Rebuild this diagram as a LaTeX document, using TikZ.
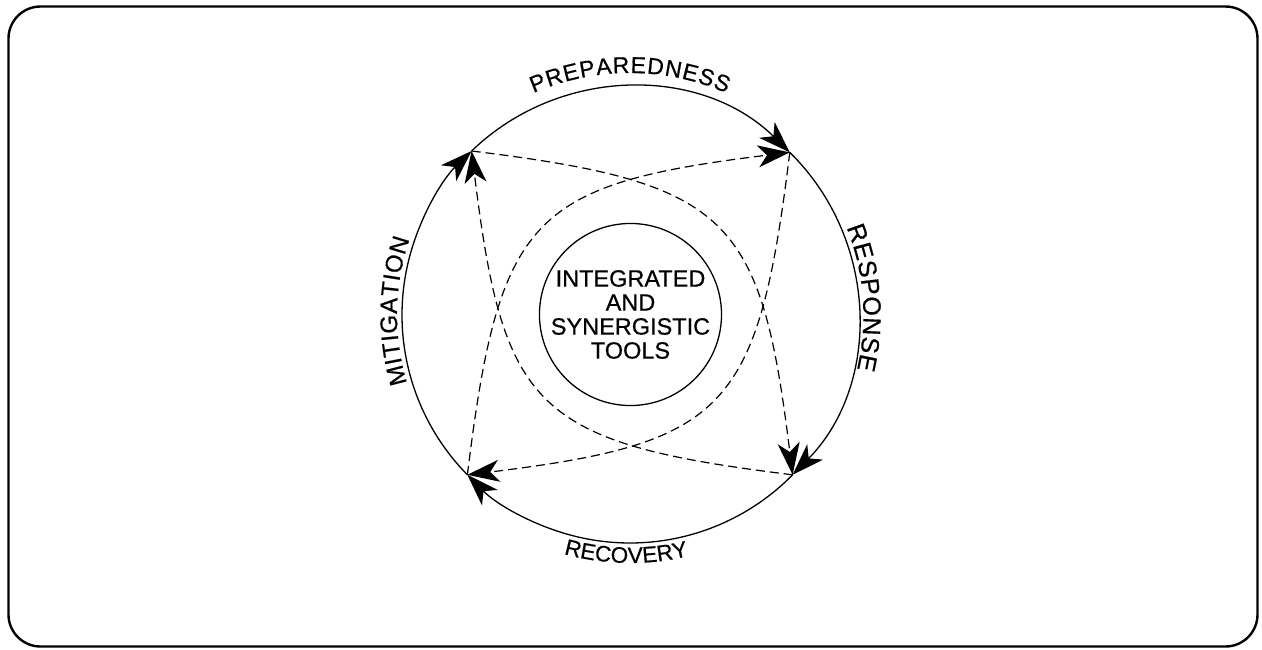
\documentclass[tikz,border=0pt]{standalone}
\usepackage{fontspec}
\setmainfont[FakeBold=0.6]{Liberation Sans}
\usetikzlibrary{arrows.meta,decorations.text}

\begin{document}
\begin{tikzpicture}[x=1pt,y=1pt,
  ring/.style={line width=1.3pt},
  flow/.style={line width=1.2pt, dash pattern=on 9pt off 5pt},
  tip/.style={-{Stealth[length=32pt,width=22pt,inset=9pt]}},
  phase/.style={decorate, decoration={text along path, text align={fit to path}, text={#1}}}
]
% page and frame
\useasboundingbox (-630,-334) rectangle (632,315);
\draw[line width=2.4pt, rounded corners=32pt] (-621.5,-331.5) rectangle (627.5,308.5);

% the four stations on the cycle
\coordinate (tl) at (134:228);
\coordinate (tr) at (45.5:228);
\coordinate (br) at (-44.5:228);
\coordinate (bl) at (224.5:228);

% central tools
\node[draw, circle, ring, minimum size=181pt, inner sep=0pt, align=center,
      font=\fontsize{23.5}{24}\selectfont] (core) at (0.5,0.5)
      {INTEGRATED\\AND\\SYNERGISTIC\\TOOLS};

% outer cycle, clockwise
\draw[ring,tip] (tl) arc[start angle=134, end angle=45.5, radius=228];
\draw[ring,tip] (tr) arc[start angle=45.5, end angle=-44.5, radius=228];
\draw[ring,tip] (br) arc[start angle=-44.5, end angle=-135.5, radius=228];
\draw[ring,tip] (bl) arc[start angle=224.5, end angle=134, radius=228];

% cross links
\draw[flow,tip] (tl) to[out=-7, in=97, looseness=1.46] (br);
\draw[flow,tip] (br) to[out=173, in=-83, looseness=1.46] (tl);
\draw[flow,tip] (tr) to[out=-97, in=7, looseness=1.46] (bl);
\draw[flow,tip] (bl) to[out=83, in=-173, looseness=1.46] (tr);

% phase names along the cycle
\path[phase={|\fontsize{23}{24}\selectfont|PREPAREDNESS}]
  (113.5:242) arc[start angle=113.5, end angle=66.5, radius=242];
\path[phase={|\fontsize{25}{26}\selectfont|RESPONSE}]
  (22:233.5) arc[start angle=22, end angle=-13.5, radius=233.5];
\path[phase={|\fontsize{22.5}{24}\selectfont|RECOVERY}]
  (254.5:248) arc[start angle=254.5, end angle=283.6, radius=248];
\path[phase={|\fontsize{24}{26}\selectfont|MITIGATION}]
  (197:233) arc[start angle=197, end angle=161, radius=233];
\end{tikzpicture}
\end{document}
